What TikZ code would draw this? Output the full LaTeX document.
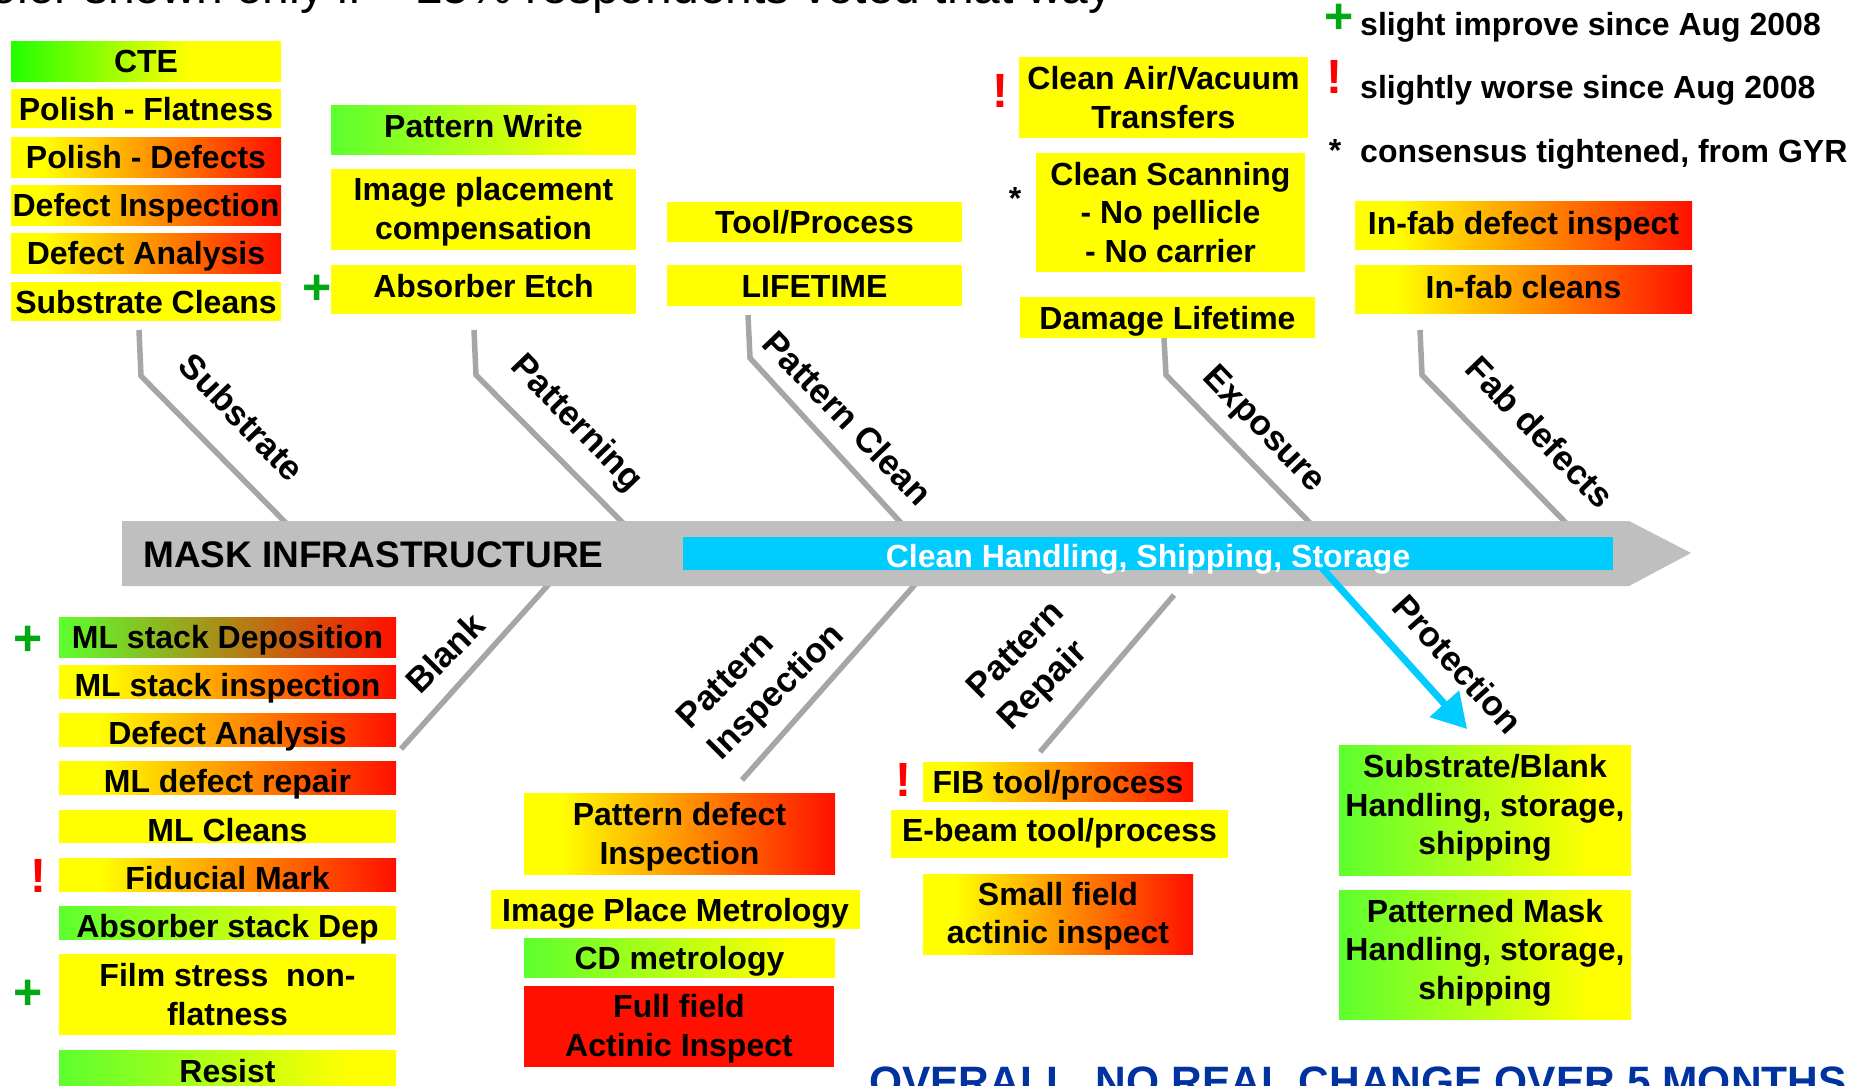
\documentclass[tikz,border=0pt]{standalone}
\usepackage{fontspec}
\setmainfont{Liberation Sans}
\usetikzlibrary{arrows.meta}
\definecolor{Y}{HTML}{FFFF00}
\definecolor{Rd}{HTML}{FF1000}
\definecolor{Gn}{HTML}{5CFF2E}
\definecolor{GnB}{HTML}{22FF00}
\definecolor{boneGray}{HTML}{A6A6A6}
\definecolor{spineGray}{HTML}{BFBFBF}
\definecolor{cyanBand}{HTML}{00CCFF}
\definecolor{plusGreen}{HTML}{00A814}
\definecolor{bangRed}{HTML}{FF0000}
\definecolor{overBlue}{HTML}{0033A0}
\pgfdeclarehorizontalshading{yrshade}{100bp}{color(0bp)=(Y); color(31bp)=(Y); color(75bp)=(Rd); color(100bp)=(Rd)}
\pgfdeclarehorizontalshading{gyshade}{100bp}{color(0bp)=(Gn); color(25bp)=(Gn); color(68bp)=(Y); color(100bp)=(Y)}
\pgfdeclarehorizontalshading{cteshade}{100bp}{color(0bp)=(GnB); color(25bp)=(GnB); color(58bp)=(Y); color(100bp)=(Y)}
\pgfdeclarehorizontalshading{grshade}{100bp}{color(0bp)=(Gn); color(25bp)=(Gn); color(75bp)=(Rd); color(100bp)=(Rd)}
\newcommand\myboxfont{\bfseries\fontsize{32}{38.5}\selectfont}
\newcommand\mybonefont{\bfseries\fontsize{35}{44}\selectfont}
\newcommand\topstrut[1]{\rule{0pt}{#1pt}}
\newcommand\botstrut[1]{\rule[-#1pt]{0pt}{0pt}}
\tikzset{
 bx/.style={inner sep=0pt, align=center, font=\myboxfont, text=black},
 yel/.style={bx, fill=Y},
 yr/.style={bx, shade, shading=yrshade},
 gy/.style={bx, shade, shading=gyshade},
 cte/.style={bx, shade, shading=cteshade},
 gr/.style={bx, shade, shading=grshade},
 rd/.style={bx, fill=Rd},
 wh/.style 2 args={minimum width=#1pt, minimum height=#2pt},
 one/.style={text height=23pt, text depth=0pt},
 oneup/.style={text height=23pt, text depth=#1pt},
 onedn/.style={text height=30pt, text depth=0pt},
 bone/.style={draw=boneGray, line width=5.5pt},
 blab/.style={font=\mybonefont, inner sep=0pt, align=left},
 plus/.style={text=plusGreen, font=\bfseries\fontsize{50}{50}\selectfont, inner sep=0pt},
 bang/.style={text=bangRed, font=\bfseries\fontsize{48}{48}\selectfont, inner sep=0pt},
 star/.style={font=\bfseries\fontsize{32}{32}\selectfont, inner sep=0pt},
 leg/.style={font=\bfseries\fontsize{32}{32}\selectfont, inner sep=0pt, anchor=base west},
}
\begin{document}
\begin{tikzpicture}[x=1pt,y=-1pt]
\useasboundingbox (0,0) rectangle (1867,1085);
\clip (0,0) rectangle (1867,1085);
\fill[white] (0,0) rectangle (1867,1085);

% header (cut off)
\node[font=\fontsize{48}{48}\selectfont, anchor=base east, inner sep=0pt] (hdr) at (1113,3) {Color shown only if > 25\% respondents voted that way};

% legend
\node[plus] (lp) at (1339,19) {+};
\node[leg] (lpt) at (1360,35) {slight improve since Aug 2008};
\node[bang] (lb) at (1334,77) {!};
\node[leg] (lbt) at (1360,98) {slightly worse since Aug 2008};
\node[star] (ls) at (1335,150) {*};
\node[leg] (lst) at (1360,162) {consensus tightened, from GYR};

% bones
\coordinate (b1t) at (139,330); \coordinate (b1m) at (141,376); \coordinate (b1e) at (287,524);
\coordinate (b2t) at (474,330); \coordinate (b2m) at (476,375); \coordinate (b2e) at (624,524);
\coordinate (b3t) at (748,315); \coordinate (b3m) at (750,358); \coordinate (b3e) at (902,524);
\coordinate (b4t) at (1164,338); \coordinate (b4m) at (1166,375); \coordinate (b4e) at (1311,524);
\coordinate (b5t) at (1420,330); \coordinate (b5m) at (1422,375); \coordinate (b5e) at (1567,524);
\draw[bone] (b1t) -- (b1m) -- (b1e);
\draw[bone] (b2t) -- (b2m) -- (b2e);
\draw[bone] (b3t) -- (b3m) -- (b3e);
\draw[bone] (b4t) -- (b4m) -- (b4e);
\draw[bone] (b5t) -- (b5m) -- (b5e);
\coordinate (bBt) at (549,584); \coordinate (bBe) at (401,749);
\coordinate (bIt) at (919,580); \coordinate (bIe) at (742,780);
\coordinate (bRt) at (1174,595); \coordinate (bRe) at (1040,752);
\draw[bone] (bBt) -- (bBe);
\draw[bone] (bIt) -- (bIe);
\draw[bone] (bRt) -- (bRe);

% spine
\fill[spineGray] (122,521) -- (1629,521) -- (1691,553) -- (1629,586) -- (122,586) -- cycle;
\node[fill=cyanBand, minimum width=930pt, minimum height=33pt, inner sep=0pt] (band) at (1148,553.5) {};

% protection arrow
\coordinate (pa) at (1322,568); \coordinate (pb) at (1467,729);
\draw[cyanBand, line width=7pt, -{Triangle[length=34pt, width=38pt]}] (pa) -- (pb);

\node[font=\bfseries\fontsize{37}{37}\selectfont, anchor=base west, inner sep=0pt] (mask) at (143,567) {MASK INFRASTRUCTURE};
\node[font=\myboxfont, text=white, anchor=base, inner sep=0pt] (chs) at (1148,567) {Clean Handling, Shipping, Storage};

% bone labels
\node[blab, rotate=-46] (lSub) at (242,417) {Substrate};
\node[blab, rotate=-46] (lPat) at (576,424) {Patterning};
\node[blab, rotate=-46] (lPC) at (848,418) {Pattern Clean};
\node[blab, rotate=-46] (lExp) at (1263,430) {Exposure};
\node[blab, rotate=-46] (lFab) at (1540,432) {Fab defects};
\node[blab, rotate=45] (lBl) at (445,653) {Blank};
\node[blab, rotate=45] (lPI) at (762,678) {Pattern\\Inspection};
\node[blab, rotate=45] (lPR) at (1033,667) {Pattern\\Repair};
\node[blab, rotate=-48] (lPro) at (1458,664) {Protection};

% substrate column
\node[cte, wh={270}{40}, one] (cte) at (146,61) {CTE};
\node[yel, wh={270}{39}, one] (pf) at (146,108.5) {Polish - Flatness};
\node[yr, wh={270}{40}, one] (pd) at (146,157) {Polish - Defects};
\node[yr, wh={270}{40}, one] (di) at (146,205) {Defect Inspection};
\node[yr, wh={270}{40}, one] (da) at (146,253) {Defect Analysis};
\node[yel, wh={270}{39}, one] (sc) at (146,301.5) {Substrate Cleans};

% patterning column
\node[gy, wh={305}{49}, oneup=7] (pw) at (483.5,129.5) {Pattern Write};
\node[yel, wh={305}{81}] (ipc) at (483.5,209.5) {\topstrut{28}Image placement\\compensation};
\node[yel, wh={305}{49}, oneup=7] (ae) at (483.5,289.5) {Absorber Etch};
\node[plus] (p1) at (317,290) {+};

% pattern clean column
\node[yel, wh={295}{40}, one] (tp) at (814.5,222) {Tool/Process};
\node[yel, wh={295}{41}, one] (lt) at (814.5,285.5) {LIFETIME};

% exposure column
\node[yel, wh={289}{81}] (cav) at (1163.5,97.5) {Clean Air/Vacuum\\Transfers};
\node[bang] (e1) at (1000,91) {!};
\node[yel, wh={269}{119}] (cs) at (1170.5,212.5) {Clean Scanning\\- No pellicle\\- No carrier};
\node[star] (e2) at (1015,198) {*};
\node[yel, wh={295}{41}, one] (dl) at (1167.5,317.5) {Damage Lifetime};

% fab defects column
\node[yr, wh={337}{48}, oneup=5] (ifd) at (1523.5,225) {In-fab defect inspect};
\node[yr, wh={337}{48}, oneup=5] (ifc) at (1523.5,289) {In-fab cleans};

% blank column
\node[gr, wh={337}{40}, one] (mlsd) at (227.5,637) {ML stack Deposition};
\node[plus] (p2) at (28,641) {+};
\node[yr, wh={337}{33}, onedn] (mlsi) at (227.5,681.5) {ML stack inspection};
\node[yr, wh={337}{33}, onedn] (bda) at (227.5,729.5) {Defect Analysis};
\node[yr, wh={337}{33}, onedn] (mldr) at (227.5,777.5) {ML defect repair};
\node[yel, wh={337}{33}, onedn] (mlc) at (227.5,826.5) {ML Cleans};
\node[yr, wh={337}{33}, onedn] (fm) at (227.5,874.5) {Fiducial Mark};
\node[bang] (b1) at (38,876) {!};
\node[gy, wh={337}{33}, onedn] (asd) at (227.5,922.5) {Absorber stack Dep};
\node[yel, wh={337}{81}] (fs) at (227.5,994.5) {Film stress~ non-\\flatness};
\node[plus] (p3) at (28,995) {+};
\node[gy, wh={337}{42}, one] (res) at (227.5,1071) {Resist};

% pattern inspection column
\node[yr, wh={311}{81}] (pdi) at (679.5,833.5) {\topstrut{30}Pattern defect\\Inspection};
\node[yel, wh={369}{39}, one] (ipm) at (675.5,909.5) {Image Place Metrology};
\node[gy, wh={311}{39}, one] (cdm) at (679.5,957.5) {CD metrology};
\node[rd, wh={310}{81}] (ffa) at (679,1026.5) {\topstrut{28}Full field\\Actinic Inspect};

% pattern repair column
\node[yr, wh={270}{39}, one] (fib) at (1058,781.5) {FIB tool/process};
\node[bang] (r1) at (903,780) {!};
\node[yel, wh={337}{48}, oneup=8] (eb) at (1059.5,834) {E-beam tool/process};
\node[yr, wh={270}{80}] (sfa) at (1058,914) {\topstrut{28}Small field\\actinic inspect};

% protection column
\node[gy, wh={292}{130}] (sbh) at (1485,810) {Substrate/Blank\\Handling, storage,\\shipping\botstrut{11}};
\node[gy, wh={292}{129}] (pmh) at (1485,954.5) {Patterned Mask\\Handling, storage,\\shipping\botstrut{11}};

% overall
\node[font=\bfseries\fontsize{42.5}{42.5}\selectfont, text=overBlue, anchor=base west, inner sep=0pt] (ovr) at (869,1096) {OVERALL, NO REAL CHANGE OVER 5 MONTHS};
\end{tikzpicture}
\end{document}
